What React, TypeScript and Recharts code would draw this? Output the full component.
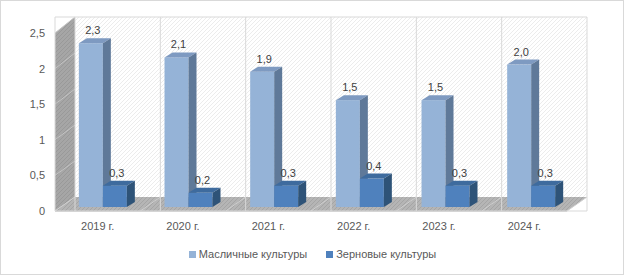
import React from "react";
import { BarChart, Bar, XAxis, YAxis, CartesianGrid, LabelList, Legend } from "recharts";

// values
const years = ["2019 г.", "2020 г.", "2021 г.", "2022 г.", "2023 г.", "2024 г."];
const oilseeds = [2.3, 2.1, 1.9, 1.5, 1.5, 2.0];
const grains = [0.3, 0.2, 0.3, 0.4, 0.3, 0.3];
const yTicks = [0, 0.5, 1, 1.5, 2, 2.5];
const seriesNames = ["Масличные культуры", "Зерновые культуры"];

const data = years.map((year, i) => ({ year, idx: i, oil: oilseeds[i], grain: grains[i] }));

const W = 625;
const H = 277;
const FONT = "'Liberation Sans', Arial, sans-serif";

// 3D frame: front edge and back wall of the plot box
const FRONT = { x0: 55, x1: 567, y0: 211, yTop: 33 };
const BACK = { x0: 75, x1: 587, y0: 197, yTop: 17 };
const YMAX = 2.5;

// bar depth
const DX = 8;
const DY = 5;

const COLORS = {
  oil: { front: "#95B3D7", top: "#7E9AC1", side: "#5F7999" },
  grain: { front: "#4F81BD", top: "#3E6B9E", side: "#2E5378" },
};

const fmt = (v: number) => String(v).replace(".", ",");
const fmt1 = (v: number) => v.toFixed(1).replace(".", ",");

const Box3D = (props: any) => {
  const { x, y, width: w, height: h, c } = props;
  if (w == null || h == null) return null;
  return (
    <g>
      <rect x={x} y={y} width={w} height={h} fill={c.front} />
      <polygon points={`${x},${y} ${x + DX},${y - DY} ${x + w + DX},${y - DY} ${x + w},${y}`} fill={c.top} />
      <polygon points={`${x + w},${y} ${x + w + DX},${y - DY} ${x + w + DX},${y + h - DY} ${x + w},${y + h}`} fill={c.side} />
    </g>
  );
};

const TopLabel = (props: any) => {
  const { x, y, width, value } = props;
  return (
    <text x={x + width / 2 + 2} y={y - DY - 4} textAnchor="middle" fontSize={11} fontFamily={FONT} fill="#404040">
      {fmt1(value)}
    </text>
  );
};

const Frame = () => {
  const fy = (v: number) => FRONT.y0 - (v / YMAX) * (FRONT.y0 - FRONT.yTop);
  const by = (v: number) => BACK.y0 - (v / YMAX) * (BACK.y0 - BACK.yTop);
  const step = (BACK.x1 - BACK.x0) / years.length;
  return (
    <svg width={W} height={H} style={{ position: "absolute", left: 0, top: 0 }}>
      <defs>
        <pattern id="hBack" width="4" height="4" patternUnits="userSpaceOnUse">
          <rect width="4" height="4" fill="#ffffff" />
          <path d="M0,4 L4,0" stroke="#ececec" strokeWidth="1" />
        </pattern>
        <pattern id="hSide" width="4" height="4" patternUnits="userSpaceOnUse">
          <rect width="4" height="4" fill="#a6a6a6" />
          <path d="M0,4 L4,0" stroke="#999999" strokeWidth="1" />
        </pattern>
        <pattern id="hFloor" width="4" height="4" patternUnits="userSpaceOnUse">
          <rect width="4" height="4" fill="#b5b5b5" />
          <path d="M0,4 L4,0" stroke="#a5a5a5" strokeWidth="1" />
        </pattern>
      </defs>
      <rect x={0.5} y={0.5} width={W - 2} height={H - 3} fill="#fff" stroke="#d9d9d9" />
      <rect x={BACK.x0} y={BACK.yTop} width={BACK.x1 - BACK.x0} height={BACK.y0 - BACK.yTop} fill="url(#hBack)" />
      <polygon
        points={`${FRONT.x0},${FRONT.yTop} ${BACK.x0},${BACK.yTop} ${BACK.x0},${BACK.y0} ${FRONT.x0},${FRONT.y0}`}
        fill="url(#hSide)"
      />
      {yTicks.map((t) => (
        <line key={t} x1={FRONT.x0} y1={fy(t)} x2={BACK.x0} y2={by(t)} stroke="#c4c4c4" />
      ))}
      <polygon
        points={`${FRONT.x0},${FRONT.y0} ${BACK.x0},${BACK.y0} ${BACK.x1},${BACK.y0} ${FRONT.x1},${FRONT.y0}`}
        fill="url(#hFloor)"
      />
      {years.concat([""]).map((_, i) => (
        <line
          key={i}
          x1={BACK.x0 + i * step}
          y1={BACK.y0}
          x2={FRONT.x0 + i * step}
          y2={FRONT.y0}
          stroke="#cfcfcf"
        />
      ))}
      <line x1={FRONT.x0} y1={FRONT.y0 + 0.5} x2={FRONT.x1} y2={FRONT.y0 + 0.5} stroke="#d0d0d0" />
    </svg>
  );
};

const LegendBox = () => (
  <div
    style={{
      display: "flex",
      justifyContent: "center",
      alignItems: "center",
      fontFamily: FONT,
      fontSize: 11,
      color: "#595959",
      gap: 19,
    }}
  >
    {seriesNames.map((name, i) => (
      <span key={name} style={{ display: "flex", alignItems: "center" }}>
        <span
          style={{
            width: 7,
            height: 7,
            marginRight: 3,
            background: i === 0 ? COLORS.oil.front : COLORS.grain.front,
            display: "inline-block",
          }}
        />
        {name}
      </span>
    ))}
  </div>
);

export default function App() {
  return (
    <div style={{ position: "relative", width: W, height: H }}>
      <style>{"body{margin:0}"}</style>
      <Frame />
      <div style={{ position: "absolute", left: 0, top: 0 }}>
        <BarChart
          width={W}
          height={H}
          data={data}
          margin={{ top: BACK.yTop, right: W - BACK.x1, left: 0, bottom: H - FRONT.y0 - 30 }}
          barCategoryGap="22%"
          barGap={0}
        >
          {/* visible front axes */}
          <XAxis
            dataKey="year"
            height={30}
            padding={{ left: 0, right: BACK.x1 - FRONT.x1 }}
            axisLine={false}
            tickLine={false}
            tickSize={0}
            tickMargin={11}
            tick={{ fill: "#595959", fontSize: 11, fontFamily: FONT }}
          />
          <YAxis
            type="number"
            dataKey="oil"
            orientation="left"
            width={FRONT.x0}
            domain={[0, YMAX]}
            allowDataOverflow
            ticks={yTicks}
            interval={0}
            tickFormatter={fmt}
            padding={{ top: FRONT.yTop - BACK.yTop, bottom: 0 }}
            axisLine={false}
            tickLine={false}
            tickSize={0}
            tickMargin={10}
            tick={{ fill: "#595959", fontSize: 11, fontFamily: FONT }}
          />

          {/* hidden axes for the back wall grid */}
          <XAxis xAxisId="back" orientation="top" dataKey="idx" type="number" domain={[0, years.length]} ticks={years.map((_, i) => i).concat([years.length])} hide height={0} padding={{ left: BACK.x0 - FRONT.x0, right: 0 }} />
          <YAxis yAxisId="back" orientation="right" domain={[0, YMAX]} ticks={yTicks} hide width={0} padding={{ top: 0, bottom: FRONT.y0 - BACK.y0 }} />
          <CartesianGrid xAxisId="back" yAxisId="back" stroke="#d9d9d9" fill="none" />

          {/* hidden axes for the bars (mid depth) */}
          <XAxis xAxisId="bar" orientation="top" dataKey="year" hide height={0} padding={{ left: 5, right: 13 }} />
          <YAxis yAxisId="bar" orientation="right" domain={[0, YMAX]} hide width={0} padding={{ top: 12, bottom: 4 }} />

          <Bar
            xAxisId="bar"
            yAxisId="bar"
            dataKey="oil"
            name={seriesNames[0]}
            isAnimationActive={false}
            shape={(p: any) => <Box3D {...p} c={COLORS.oil} />}
          >
            <LabelList dataKey="oil" content={TopLabel} />
          </Bar>
          <Bar
            xAxisId="bar"
            yAxisId="bar"
            dataKey="grain"
            name={seriesNames[1]}
            isAnimationActive={false}
            shape={(p: any) => <Box3D {...p} c={COLORS.grain} />}
          >
            <LabelList dataKey="grain" content={TopLabel} />
          </Bar>
          <Legend
            verticalAlign="middle"
            align="center"
            content={LegendBox}
            wrapperStyle={{ position: "absolute", top: 248, left: 0, width: W }}
          />
        </BarChart>
      </div>
    </div>
  );
}
